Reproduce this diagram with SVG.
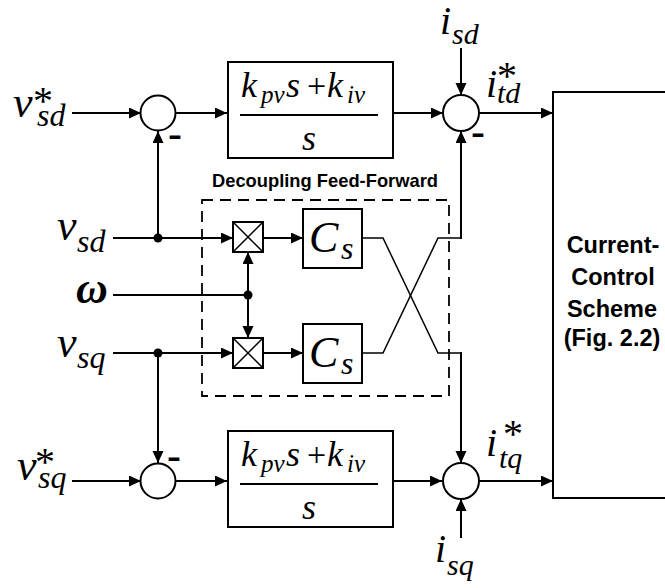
<svg xmlns="http://www.w3.org/2000/svg" width="665" height="588" viewBox="0 0 665 588">
<style>
.ln{fill:none;stroke:#000;stroke-width:2}
.thin{fill:none;stroke:#000;stroke-width:1.5}
.box{fill:#fff;stroke:#000;stroke-width:2}
.dash{fill:none;stroke:#000;stroke-width:1.8;stroke-dasharray:11 7}
.m{font-family:"Liberation Serif",serif;font-style:italic;font-size:44px}
.sb{font-family:"Liberation Serif",serif;font-style:italic;font-size:32px}
.ast{font-family:"Liberation Serif",serif;font-size:40px}
.i{font-family:"Liberation Serif",serif;font-style:italic;font-size:40px}
.isb{font-family:"Liberation Serif",serif;font-style:italic;font-size:30px}
.k{font-family:"Liberation Serif",serif;font-style:italic;font-size:36px}
.ks{font-family:"Liberation Serif",serif;font-style:italic;font-size:25px}
.pl{font-family:"Liberation Serif",serif;font-size:34px}
.minus{font-family:"Liberation Sans",Arial,sans-serif;font-weight:bold;font-size:30px}
.bt{font-family:"Liberation Sans",Arial,sans-serif;font-weight:bold}
.cc{font-family:"Liberation Sans",Arial,sans-serif;font-weight:bold;font-size:23.5px;text-anchor:middle}
</style>
<defs>
<marker id="ah" markerUnits="userSpaceOnUse" markerWidth="13" markerHeight="12" refX="12" refY="5.5" orient="auto">
<path d="M0,0 L12,5.5 L0,11 z" fill="#000"/>
</marker>
</defs>

<g id="connectors">
<line class="ln" x1="72" y1="113" x2="141" y2="113" marker-end="url(#ah)"/>
<line class="ln" x1="176" y1="113" x2="227" y2="113" marker-end="url(#ah)"/>
<line class="ln" x1="393" y1="113" x2="443" y2="113" marker-end="url(#ah)"/>
<line class="ln" x1="479" y1="113" x2="553" y2="113" marker-end="url(#ah)"/>
<line class="ln" x1="461" y1="48" x2="461" y2="95" marker-end="url(#ah)"/>
<line class="ln" x1="158" y1="238" x2="158" y2="131" marker-end="url(#ah)"/>
<line class="ln" x1="113" y1="238" x2="233" y2="238" marker-end="url(#ah)"/>
<line class="ln" x1="263" y1="238" x2="303" y2="238" marker-end="url(#ah)"/>
<line class="ln" x1="113" y1="295" x2="248" y2="295"/>
<line class="ln" x1="248" y1="295" x2="248" y2="252" marker-end="url(#ah)"/>
<line class="ln" x1="248" y1="295" x2="248" y2="338" marker-end="url(#ah)"/>
<line class="ln" x1="113" y1="353" x2="233" y2="353" marker-end="url(#ah)"/>
<line class="ln" x1="263" y1="353" x2="303" y2="353" marker-end="url(#ah)"/>
<line class="ln" x1="158" y1="353" x2="158" y2="463" marker-end="url(#ah)"/>
<line class="ln" x1="72" y1="481" x2="141" y2="481" marker-end="url(#ah)"/>
<line class="ln" x1="176" y1="481" x2="227" y2="481" marker-end="url(#ah)"/>
<line class="ln" x1="393" y1="481" x2="442" y2="481" marker-end="url(#ah)"/>
<line class="ln" x1="479" y1="481" x2="553" y2="481" marker-end="url(#ah)"/>
<line class="ln" x1="461" y1="538" x2="461" y2="499" marker-end="url(#ah)"/>
<polyline class="thin" points="362,238 383,238 438,353 461,353"/>
<line class="ln" x1="461" y1="352" x2="461" y2="463" marker-end="url(#ah)"/>
<polyline class="thin" points="362,353 383,353 438,238 461,238"/>
<line class="ln" x1="461" y1="239" x2="461" y2="131" marker-end="url(#ah)"/>
<circle cx="158" cy="238" r="4.5" fill="#000"/>
<circle cx="158" cy="353" r="4.5" fill="#000"/>
<circle cx="248" cy="295" r="4.5" fill="#000"/>
</g>

<g id="ff-group">
<rect class="dash" x="202" y="200" width="247" height="196"/>
<text class="bt" x="212" y="187" font-size="19" textLength="226" lengthAdjust="spacingAndGlyphs">Decoupling Feed-Forward</text>
</g>

<g id="sum1">
<circle class="box" cx="158" cy="113" r="17.5"/>
<text class="minus" x="168" y="145" textLength="14" lengthAdjust="spacingAndGlyphs">-</text>
</g>
<g id="sum2">
<circle class="box" cx="461" cy="113" r="18"/>
<text class="minus" x="471" y="143" textLength="14" lengthAdjust="spacingAndGlyphs">-</text>
</g>
<g id="sum3">
<circle class="box" cx="158" cy="481" r="17.5"/>
<text class="minus" x="167" y="467" textLength="14" lengthAdjust="spacingAndGlyphs">-</text>
</g>
<g id="sum4">
<circle class="box" cx="461" cy="481" r="18"/>
</g>

<g id="pi1">
<rect class="box" x="228" y="62" width="165" height="96"/>
<line class="ln" x1="240" y1="115" x2="378" y2="115"/>
<text class="k" x="241" y="97">k</text>
<text class="ks" x="261" y="103">pv</text>
<text class="k" x="286" y="97">s</text>
<text class="pl" x="307" y="97">+</text>
<text class="k" x="327" y="97">k</text>
<text class="ks" x="347" y="103">iv</text>
<text class="k" x="302" y="150" font-size="38">s</text>
</g>

<g id="pi2">
<rect class="box" x="228" y="431" width="165" height="96"/>
<line class="ln" x1="240" y1="484" x2="378" y2="484"/>
<text class="k" x="241" y="466">k</text>
<text class="ks" x="261" y="472">pv</text>
<text class="k" x="286" y="466">s</text>
<text class="pl" x="307" y="466">+</text>
<text class="k" x="327" y="466">k</text>
<text class="ks" x="347" y="472">iv</text>
<text class="k" x="302" y="519" font-size="38">s</text>
</g>

<g id="mult1">
<rect class="box" x="233" y="222" width="30" height="30"/>
<path class="thin" d="M233,222 L263,252 M263,222 L233,252"/>
</g>
<g id="mult2">
<rect class="box" x="233" y="338" width="30" height="30"/>
<path class="thin" d="M233,338 L263,368 M263,338 L233,368"/>
</g>

<g id="cs1">
<rect class="box" x="303" y="209" width="59" height="59"/>
<text class="m" x="309" y="252" font-size="50">C</text>
<text class="sb" x="341" y="259" font-size="30">s</text>
</g>
<g id="cs2">
<rect class="box" x="303" y="324" width="59" height="59"/>
<text class="m" x="309" y="367" font-size="50">C</text>
<text class="sb" x="341" y="374" font-size="30">s</text>
</g>

<g id="ccs">
<rect class="box" x="553" y="92" width="130" height="406"/>
<text class="cc" x="613" y="253">Current-</text>
<text class="cc" x="613" y="285">Control</text>
<text class="cc" x="612" y="317">Scheme</text>
<text class="cc" x="612" y="346">(Fig. 2.2)</text>
</g>

<g id="labels">
<text class="m" x="13" y="117">v</text>
<text class="ast" x="33" y="114">*</text>
<text class="sb" x="37" y="126">sd</text>

<text class="m" x="57" y="240">v</text>
<text class="sb" x="77" y="252">sd</text>

<text class="m" x="76" y="303" font-weight="bold">ω</text>

<text class="m" x="57" y="357">v</text>
<text class="sb" x="77" y="368">sq</text>

<text class="m" x="17" y="480">v</text>
<text class="ast" x="35" y="475">*</text>
<text class="sb" x="38" y="488">sq</text>

<text class="i" x="440" y="34">i</text>
<text class="isb" x="452" y="44">sd</text>

<text class="i" x="486" y="97">i</text>
<text class="ast" x="497" y="89">*</text>
<text class="isb" x="497" y="103">td</text>

<text class="i" x="486" y="456">i</text>
<text class="ast" x="503" y="447">*</text>
<text class="isb" x="499" y="468">tq</text>

<text class="i" x="435" y="562">i</text>
<text class="isb" x="447" y="575">sq</text>
</g>
</svg>
